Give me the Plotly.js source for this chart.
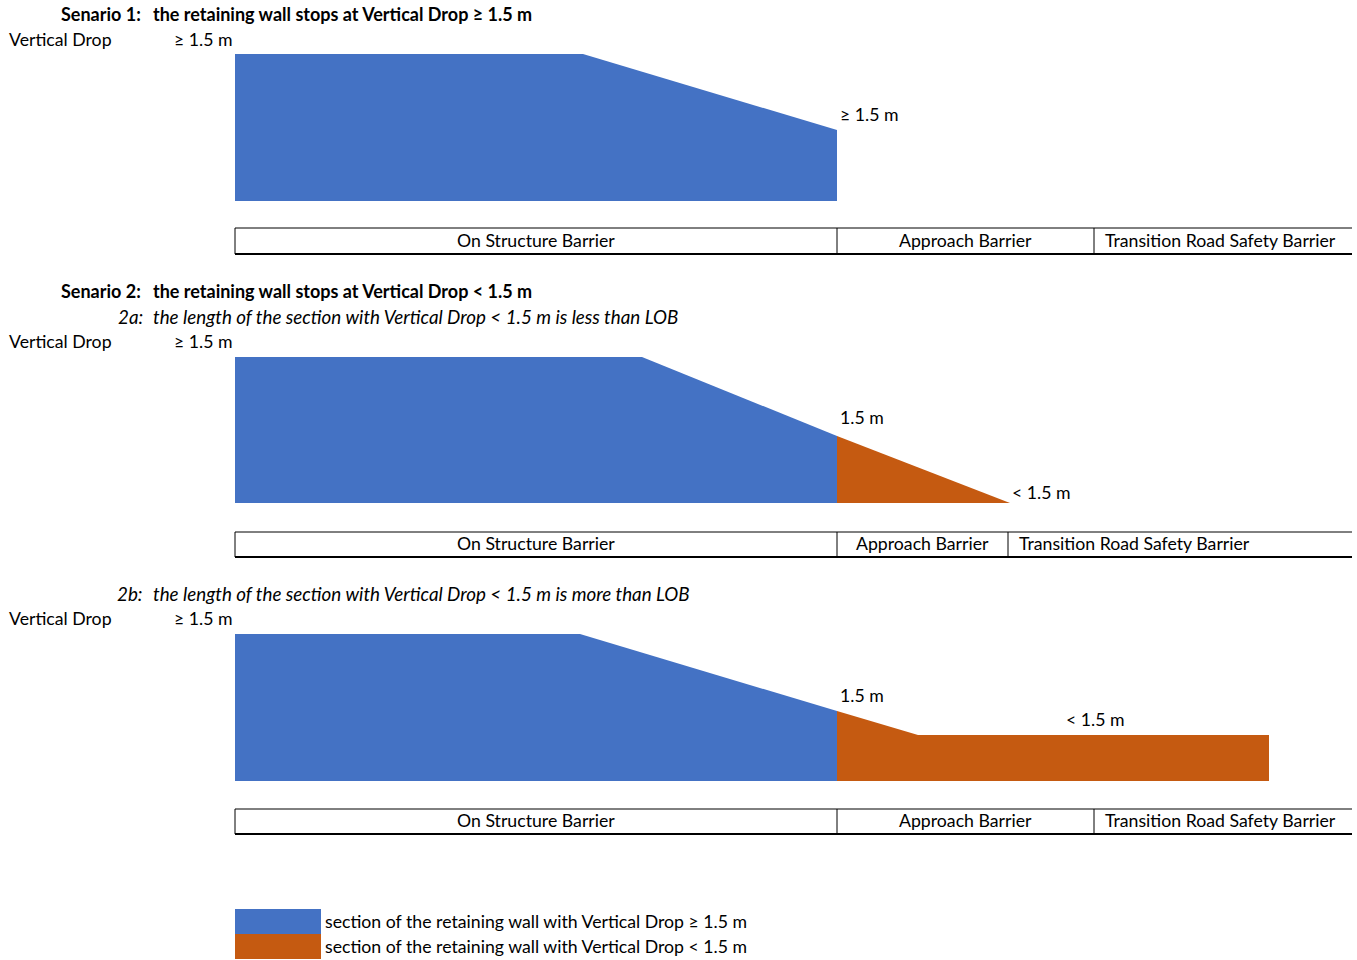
<!DOCTYPE html>
<html><head><meta charset="utf-8">
<script src="https://cdn.plot.ly/plotly-3.0.1.min.js"></script>
<style>html,body{margin:0;padding:0;background:#fff}#chart{width:1357px;height:960px}</style>
</head><body><div id="chart"></div>
<script>
// Scenario 1 wall profile
const s1BlueX = [235, 583, 837, 837, 235];
const s1BlueY = [54, 54, 130, 201, 201];
// Scenario 2a wall profile
const s2aBlueX = [235, 642, 837, 837, 235];
const s2aBlueY = [357, 357, 436, 503, 503];
const s2aOrangeX = [837, 1010, 837];
const s2aOrangeY = [436, 503, 503];
// Scenario 2b wall profile
const s2bBlueX = [235, 580, 837, 837, 235];
const s2bBlueY = [634, 634, 711, 781, 781];
const s2bOrangeX = [837, 918, 1269, 1269, 837];
const s2bOrangeY = [711, 735, 735, 781, 781];
// Barrier rows: top, bottom, divider positions
const barrierRows = [
  {top: 228, bottom: 254, dividers: [837, 1094]},
  {top: 532, bottom: 557, dividers: [837, 1008]},
  {top: 809, bottom: 834, dividers: [837, 1094]}
];
const barrierLabels = ["On Structure Barrier", "Approach Barrier", "Transition Road Safety Barrier"];
const rowLeft = 235, rowRight = 1352;

const BLUE = '#4472C4', ORANGE = '#C55A11';
const FONT = 'Lato, "Open Sans", sans-serif';
const FS = 17.7;

const traces = [];
function poly(x, y, c) {
  traces.push({x: x, y: y, type: 'scatter', mode: 'lines', fill: 'toself', fillcolor: c,
    line: {width: 0, color: c}, hoverinfo: 'skip', showlegend: false});
}
poly(s1BlueX, s1BlueY, BLUE);
poly(s2aBlueX, s2aBlueY, BLUE);
poly(s2aOrangeX, s2aOrangeY, ORANGE);
poly(s2bBlueX, s2bBlueY, BLUE);
poly(s2bOrangeX, s2bOrangeY, ORANGE);

function line(x, y, w) {
  traces.push({x: x, y: y, type: 'scatter', mode: 'lines', line: {color: '#000', width: w},
    hoverinfo: 'skip', showlegend: false});
}
const annotations = [];
function txt(x, y, t, opts) {
  opts = opts || {};
  annotations.push({x: x, y: y, xref: 'x', yref: 'y', text: t, showarrow: false,
    xanchor: opts.anchor || 'left', yanchor: 'middle', borderpad: 0,
    font: {family: FONT, size: opts.size || FS, color: '#000'}});
}
barrierRows.forEach(r => {
  line([rowLeft, rowRight], [r.top, r.top], 1);
  line([rowLeft, rowRight], [r.bottom, r.bottom], 2);
  line([rowLeft, rowLeft], [r.top, r.bottom], 1);
  r.dividers.forEach(d => line([d, d], [r.top, r.bottom], 1));
  const mid = (r.top + r.bottom) / 2 - 1;
  txt((rowLeft + r.dividers[0]) / 2, mid, barrierLabels[0], {anchor: 'center'});
  txt((r.dividers[0] + r.dividers[1]) / 2, mid, barrierLabels[1], {anchor: 'center'});
  txt(r.dividers[1] + 10, mid, barrierLabels[2]);
});

// Legend boxes
poly([235, 321, 321, 235], [909, 909, 934, 934], BLUE);
poly([235, 321, 321, 235], [934, 934, 959, 959], ORANGE);

const IS = 18.8, BS = 18;
// Texts
txt(60, 14, '<b>Senario 1:</b>', {size: BS});
txt(152, 14, '<b>the retaining wall stops at Vertical Drop ≥ 1.5 m</b>', {size: BS});
txt(8, 39, 'Vertical Drop');
txt(173, 39, '≥ 1.5 m');
txt(839, 114, '≥ 1.5 m');

txt(60, 291, '<b>Senario 2:</b>', {size: BS});
txt(152, 291, '<b>the retaining wall stops at Vertical Drop < 1.5 m</b>', {size: BS});
txt(144, 316, '<i>2a:</i>', {anchor: 'right', size: IS});
txt(152, 316, '<i>the length of the section with Vertical Drop < 1.5 m is less than LOB</i>', {size: IS});
txt(8, 341, 'Vertical Drop');
txt(173, 341, '≥ 1.5 m');
txt(839, 417, '1.5 m');
txt(1011, 492, '< 1.5 m');

txt(144, 593, '<i>2b:</i>', {anchor: 'right', size: IS});
txt(152, 593, '<i>the length of the section with Vertical Drop < 1.5 m is more than LOB</i>', {size: IS});
txt(8, 618, 'Vertical Drop');
txt(173, 618, '≥ 1.5 m');
txt(839, 695, '1.5 m');
txt(1065, 719, '< 1.5 m');

txt(324, 921, 'section of the retaining wall with Vertical Drop ≥ 1.5 m');
txt(324, 946, 'section of the retaining wall with Vertical Drop < 1.5 m');

const layout = {
  width: 1357, height: 960,
  margin: {l: 0, r: 0, t: 0, b: 0},
  paper_bgcolor: '#fff', plot_bgcolor: '#fff',
  xaxis: {range: [0, 1357], visible: false, fixedrange: true},
  yaxis: {range: [960, 0], visible: false, fixedrange: true},
  showlegend: false,
  annotations: annotations
};
Plotly.newPlot('chart', traces, layout, {staticPlot: true, displayModeBar: false});
</script></body></html>
